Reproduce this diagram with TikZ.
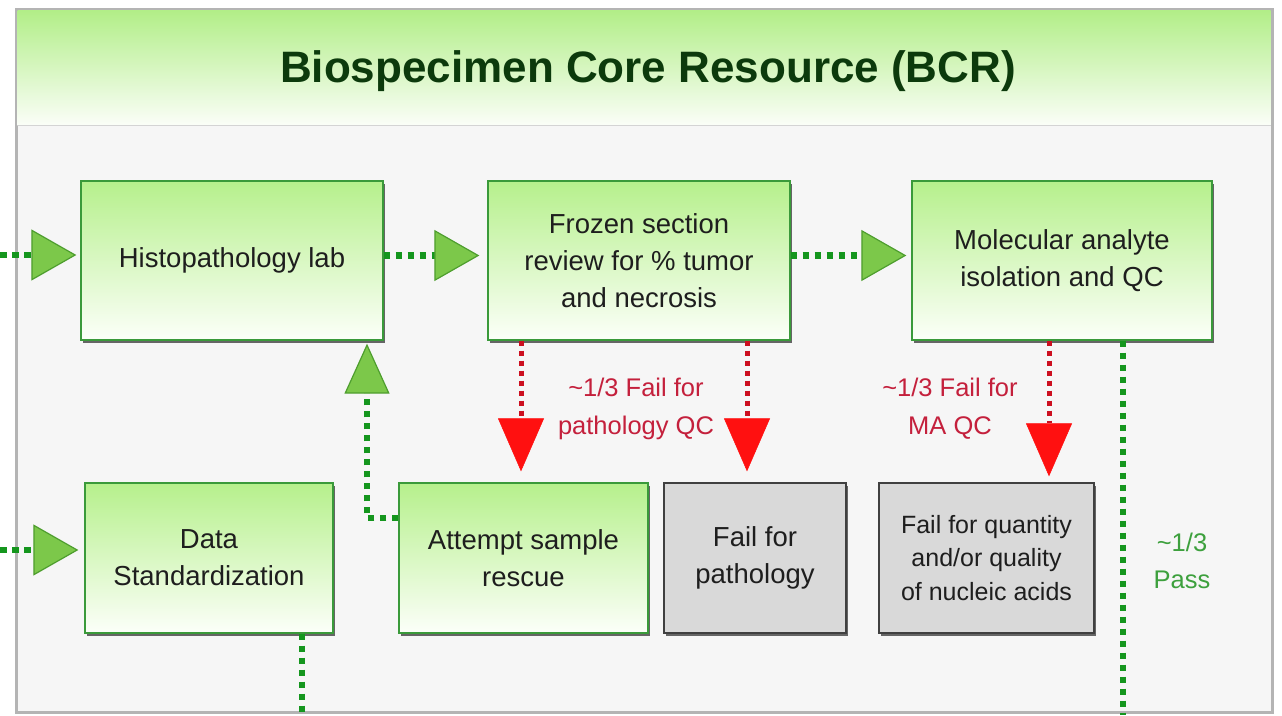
\documentclass[tikz,border=0pt]{standalone}
\usepackage{fontspec}
\setmainfont{Liberation Sans}
\usetikzlibrary{arrows.meta,shadows,calc}
\definecolor{framegray}{HTML}{B4B4B4}
\definecolor{bgin}{HTML}{F6F6F6}
\definecolor{hdrtop}{HTML}{B2EE88}
\definecolor{hdrbot}{HTML}{FBFEF8}
\definecolor{hdrline}{HTML}{D4D4D4}
\definecolor{titlegreen}{HTML}{0C3A0C}
\definecolor{boxborder}{HTML}{3A9A3A}
\definecolor{boxtop}{HTML}{B6F08C}
\definecolor{boxbot}{HTML}{FCFFF9}
\definecolor{grayfill}{HTML}{D9D9D9}
\definecolor{grayborder}{HTML}{404040}
\definecolor{txt}{HTML}{1E1E1E}
\definecolor{dotgreen}{HTML}{15961E}
\definecolor{trifill}{HTML}{7CC84A}
\definecolor{triborder}{HTML}{4E9E2E}
\definecolor{dotred}{HTML}{CC1020}
\definecolor{trired}{HTML}{FF1010}
\definecolor{lblred}{HTML}{C4203C}
\definecolor{lblgreen}{HTML}{3DA03D}
\begin{document}
\begin{tikzpicture}[x=1pt,y=-1pt,
  gbox/.style={draw=boxborder, line width=1.3pt, top color=boxtop, bottom color=boxbot,
    drop shadow={shadow xshift=1.5pt, shadow yshift=-3pt, fill=black!70, opacity=0.85},
    align=center, text=txt, inner sep=2pt, font=\fontsize{27.5}{37}\selectfont},
  graybox/.style={draw=grayborder, line width=1.3pt, fill=grayfill,
    drop shadow={shadow xshift=1.5pt, shadow yshift=-3pt, fill=black!70, opacity=0.85},
    align=center, text=txt, inner sep=2pt},
  greendots/.style={draw=dotgreen, line width=6.5pt, dash pattern=on 6.5pt off 5.5pt},
  greenarrow/.style={greendots, -{Triangle[length=45pt,width=51pt,fill=trifill,color=triborder,line width=1.2pt]}},
  greenup/.style={greendots, -{Triangle[length=50pt,width=45pt,fill=trifill,color=triborder,line width=1.2pt]}},
  redarrow/.style={draw=dotred, line width=5pt, dash pattern=on 5pt off 5pt, -{Triangle[length=53pt,width=46pt,fill=trired,color=trired,line width=0.5pt]}},
  redlbl/.style={text=lblred, align=center, inner sep=0pt, font=\fontsize{25.5}{38}\selectfont},
  passlbl/.style={text=lblgreen, align=center, inner sep=0pt, font=\fontsize{25.5}{37}\selectfont},
  titlestyle/.style={text=titlegreen, inner sep=0pt, font=\fontsize{44}{50}\selectfont\bfseries}
]
\useasboundingbox (0,0) rectangle (1282,715);
\fill[white] (0,0) rectangle (1282,715);
% frame and header
\draw[draw=framegray, line width=3pt, fill=bgin] (16,9) rectangle (1272,712);
\shade[top color=hdrtop, bottom color=hdrbot] (17.5,10.5) rectangle (1270.5,125);
\draw[hdrline, line width=1pt] (17.5,125) -- (1270.5,125);
\node[titlestyle, anchor=base] (title) at (648,82) {Biospecimen Core Resource (BCR)};

% boxes
\node[gbox, minimum width=302pt, minimum height=159pt] (histo) at (232,260.5) {Histopathology lab};
\node[gbox, minimum width=302pt, minimum height=159pt] (frozen) at (639,260.5) {Frozen section\\review for \% tumor\\and necrosis};
\node[gbox, minimum width=300pt, minimum height=159pt] (molecular) at (1062,260.5) {Molecular analyte\\isolation and QC};
\node[gbox, minimum width=248pt, minimum height=150pt] (datastd) at (209,558) {Data\\Standardization};
\node[gbox, minimum width=249pt, minimum height=150pt] (attempt) at (523.5,558) {Attempt sample\\rescue};
\node[graybox, minimum width=182pt, minimum height=150pt, font=\fontsize{27.5}{37}\selectfont] (failpath) at (755,558) {Fail for\\pathology};
\node[graybox, minimum width=215pt, minimum height=150pt, font=\fontsize{25}{33.5}\selectfont] (failqty) at (986.5,558) {Fail for quantity\\and/or quality\\of nucleic acids};

% labels
\node[redlbl] (lblP) at (636,409) {\textasciitilde1/3 Fail for\\pathology QC};
\node[redlbl] (lblM) at (950,409) {\textasciitilde1/3 Fail for\\MA QC};
\node[passlbl] (lblPass) at (1182,561) {\textasciitilde1/3\\Pass};

% free ends
\coordinate (inH) at (0,255);
\coordinate (inD) at (0,550);
\coordinate (outD) at (302,715);
\coordinate (outM) at (1123,715);

% green connectors
\draw[greenarrow, shorten >=4pt] (inH) -- (inH -| histo.west);
\draw[greenarrow, shorten >=8pt] ([yshift=5pt]histo.east) -- ([yshift=5pt]frozen.west);
\draw[greenarrow, shorten >=5pt] ([yshift=5pt]frozen.east) -- ([yshift=5pt]molecular.west);
\draw[greenarrow, shorten >=6pt] (inD) -- (inD -| datastd.west);
\draw[greenup, shorten >=3pt] ([yshift=40pt]attempt.west) -| ([xshift=135pt]histo.south);
\draw[greendots] ([xshift=93pt]datastd.south) -- (outD);
\draw[greendots] ([xshift=61pt]molecular.south) -- (outM);

% red connectors
\draw[redarrow, shorten >=11pt] ([xshift=-2.5pt]frozen.south -| attempt.north) -- ([xshift=-2.5pt]attempt.north);
\draw[redarrow, shorten >=11pt] ([xshift=-8pt]failpath.north |- frozen.south) -- ([xshift=-8pt]failpath.north);
\draw[redarrow, shorten >=6pt] ([xshift=-13pt]molecular.south) -- ([xshift=-13pt]molecular.south |- failqty.north);
\end{tikzpicture}
\end{document}
